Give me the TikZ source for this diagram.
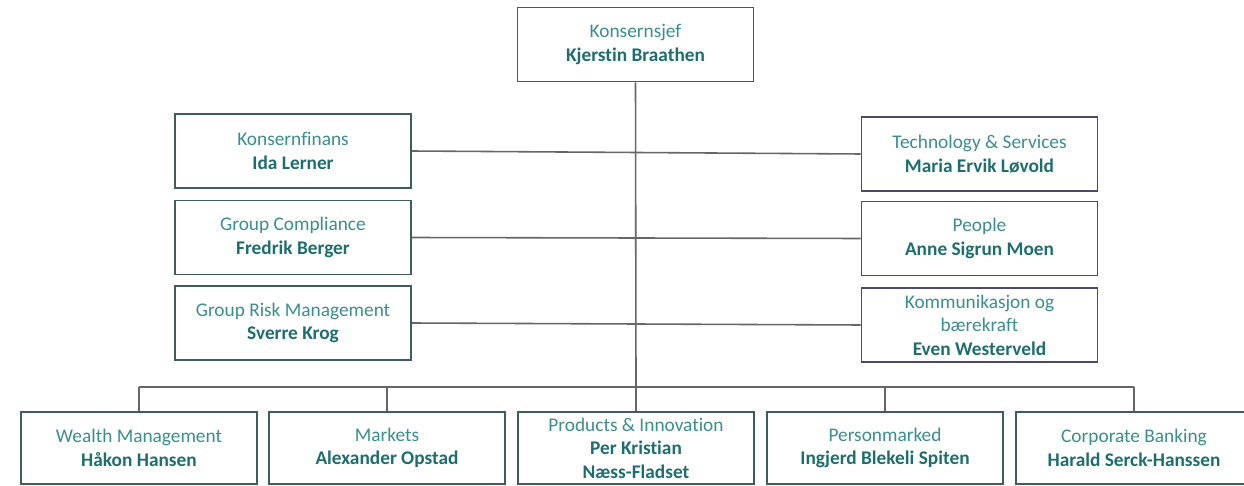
\documentclass[tikz,border=0pt]{standalone}
\usepackage{fontspec}
\setmainfont{Carlito}[Ligatures=NoCommon]
\usetikzlibrary{positioning}

\definecolor{titlecol}{HTML}{3A8F8C}
\definecolor{namecol}{HTML}{1E6E6D}
\definecolor{leftline}{HTML}{3F5D5D}
\definecolor{rightline}{HTML}{4B4A6E}
\definecolor{linkcol}{HTML}{666666}

\newcommand{\jobtitle}[1]{{\color{titlecol}#1}}
\newcommand{\headname}[1]{{\color{namecol}\bfseries #1}}

\tikzset{
  unitbox/.style={draw=leftline, line width=0.9pt, fill=white, align=center,
    minimum width=4.72cm, minimum height=1.48cm, inner sep=0pt,
    font=\fontsize{11}{13.4}\selectfont},
  staffbox/.style={unitbox, draw=rightline},
  link/.style={draw=linkcol, line width=0.9pt}
}

\begin{document}
\begin{tikzpicture}[x=0.02cm, y=-0.02cm]
\useasboundingbox[fill=white] (0,0) rectangle (1244,486);
% top
\node[unitbox] (ceo) at (635.5,44.5) {\jobtitle{Konsernsjef}\\\headname{Kjerstin Braathen}};
% left column
\node[unitbox] (l1) at (293,151) {\jobtitle{Konsernfinans}\\\headname{Ida Lerner}};
\node[unitbox] (l2) at (293,237.5) {\jobtitle{Group Compliance}\\\headname{Fredrik Berger}};
\node[unitbox] (l3) at (293,323) {\jobtitle{Group Risk Management}\\\headname{Sverre Krog}};
% right column
\node[staffbox] (r1) at (979.5,154) {\jobtitle{Technology \& Services}\\\headname{Maria Ervik Løvold}};
\node[staffbox] (r2) at (979.5,238.5) {\jobtitle{People}\\\headname{Anne Sigrun Moen}};
\node[staffbox] (r3) at (979.5,325) {\jobtitle{Kommunikasjon og}\\\jobtitle{bærekraft}\\\headname{Even Westerveld}};
% bottom row
\node[unitbox, minimum height=1.44cm] (b1) at (139,448) {\jobtitle{Wealth Management}\\\headname{Håkon Hansen}};
\node[unitbox, minimum height=1.44cm] (b2) at (387,448) {\jobtitle{Markets}\\\headname{Alexander Opstad}};
\node[unitbox, minimum height=1.44cm] (b3) at (636,448) {\jobtitle{Products \& Innovation}\\\headname{Per Kristian}\\\headname{Næss-Fladset}};
\node[unitbox, minimum height=1.44cm] (b4) at (885,448) {\jobtitle{Personmarked}\\\headname{Ingjerd Blekeli Spiten}};
\node[unitbox, minimum height=1.44cm] (b5) at (1134,448) {\jobtitle{Corporate Banking}\\\headname{Harald Serck-Hanssen}};
% connectors
\coordinate (bus) at (636,387);
\draw[link] (ceo.south) -- (bus);
\foreach \i in {1,2,3} \draw[link] (l\i.east) -- (r\i.west);
\draw[link] (b1.north |- bus) -- (b5.north |- bus);
\foreach \b in {b1,b2,b3,b4,b5} \draw[link] (\b.north |- bus) -- (\b.north);
\end{tikzpicture}
\end{document}
